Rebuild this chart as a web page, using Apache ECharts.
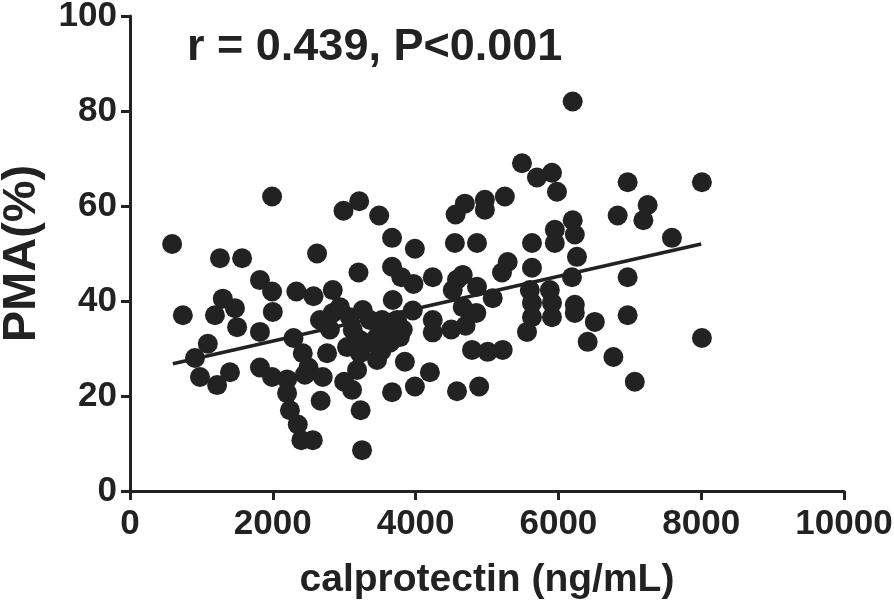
<!DOCTYPE html>
<html>
<head>
<meta charset="utf-8">
<script src="https://cdn.jsdelivr.net/npm/echarts@6/dist/echarts.min.js"></script>
<style>
  html, body { margin: 0; padding: 0; background: #fff; }
  #chart { width: 894px; height: 607px; }
</style>
</head>
<body>
<div id="chart"></div>
<script>
// calprotectin (ng/mL) values
const calprotectin = [
  590, 740, 910, 980, 1090, 1190, 1220, 1260, 1300, 1400,
  1470, 1500, 1570, 1820, 1820, 1820, 1990, 1990, 2000, 1990,
  2200, 2200, 2240, 2350, 2400, 2560, 2290, 2330, 2420, 2500,
  2450, 2570, 2620, 2660, 2670, 2700, 2760, 2800, 2840, 2840,
  2940, 2990, 3000, 3040, 3080, 3110, 3120, 3180, 3230, 3220,
  3220, 3200, 3210, 3250, 3260, 3360, 3360, 3460, 3460, 3490,
  3520, 3530, 3600, 3640, 3670, 3670, 3670, 3680, 3740, 3800,
  3780, 3970, 3820, 3850, 3960, 3990, 3990, 4200, 4240, 4240,
  4240, 4500, 4560, 4550, 4580, 4520, 4660, 4580, 4700, 4660,
  4690, 4790, 4850, 4860, 4860, 4890, 4970, 4970, 5010, 5080,
  5210, 5220, 5250, 5290, 5490, 5560, 5600, 5630, 5630, 5630,
  5630, 5700, 5880, 5910, 5910, 5910, 5950, 5950, 5980, 6200,
  6200, 6230, 6260, 6190, 6230, 6230, 6410, 6510, 6770, 6830,
  6970, 6970, 6970, 7070, 7190, 7250, 7590, 8010, 8010
];
// PMA (%) values, same order
const pma = [
  52, 37, 28, 24, 31, 37, 22.3, 49, 40.5, 25,
  38.5, 34.5, 49, 44.4, 33.5, 26, 62, 42, 37.7, 24,
  23.5, 20.6, 17, 14, 10.7, 10.7, 32.2, 42, 29, 26,
  24.5, 41, 50, 36, 19, 24, 29, 34, 37.5, 42.3,
  38.7, 59, 23, 30.3, 36.6, 21.3, 33.9, 25.5, 17, 29,
  31.8, 46, 61, 8.6, 38.1, 36, 31.2, 27.6, 32.4, 58,
  29.5, 36, 33.3, 31.2, 53.3, 47.2, 20.8, 40.2, 36, 45,
  32.4, 43.6, 34, 27.2, 38, 51, 22, 25, 45, 36,
  33.4, 34, 58.2, 52.2, 44.5, 42.3, 45.5, 21, 34.8, 38.7,
  60.5, 29.7, 37.5, 52.2, 43, 22, 61.3, 59.2, 29.3, 40.6,
  46, 29.7, 62, 48.2, 69, 33.5, 42.3, 52.2, 47, 39.6,
  36.6, 66, 42.3, 39.6, 36.6, 67, 55, 52.2, 63, 82,
  57, 54, 49.3, 45, 39.2, 37.5, 31.4, 35.6, 28.2, 58,
  65, 45, 37, 23, 57, 60.2, 53.3, 65, 32.2
];
// fitted regression line end points
const fitX = [600, 8000];
const fitY = [26.8, 52];

const xTicks = { min: 0, max: 10000, interval: 2000 };
const yTicks = { min: 0, max: 100, interval: 20 };

const ink = '#222222';
const points = calprotectin.map((v, i) => [v, pma[i]]);
const fitLine = fitX.map((v, i) => [v, fitY[i]]);

const chart = echarts.init(document.getElementById('chart'), null, { renderer: 'canvas' });

const axisCommon = {
  type: 'value',
  nameLocation: 'middle',
  axisLine: { show: true, lineStyle: { color: ink, width: 3 } },
  axisTick: { show: true, inside: false, length: 9, lineStyle: { color: ink, width: 3 } },
  splitLine: { show: false },
  axisLabel: {
    color: ink,
    fontFamily: '"Liberation Sans", Arial, sans-serif',
    fontWeight: 'bold',
    fontSize: 35,
    formatter: v => String(v)
  },
  nameTextStyle: {
    color: ink,
    fontFamily: '"Liberation Sans", Arial, sans-serif',
    fontWeight: 'bold'
  }
};

chart.setOption({
  animation: false,
  backgroundColor: '#ffffff',
  title: {
    text: 'r = 0.439, P<0.001',
    left: 187,
    top: 25,
    padding: 0,
    textStyle: {
      color: ink,
      fontFamily: '"Liberation Sans", Arial, sans-serif',
      fontWeight: 'bold',
      fontSize: 45
    }
  },
  grid: {
    left: 130, right: 50, top: 16, bottom: 116,
    containLabel: false, outerBoundsMode: 'none'
  },
  xAxis: Object.assign({}, axisCommon, {
    min: xTicks.min, max: xTicks.max, interval: xTicks.interval,
    name: 'calprotectin (ng/mL)',
    nameGap: 70,
    nameTextStyle: Object.assign({}, axisCommon.nameTextStyle, { fontSize: 39 }),
    axisLabel: Object.assign({}, axisCommon.axisLabel, { margin: 16 })
  }),
  yAxis: Object.assign({}, axisCommon, {
    min: yTicks.min, max: yTicks.max, interval: yTicks.interval,
    name: 'PMA(%)',
    nameGap: 84,
    nameTextStyle: Object.assign({}, axisCommon.nameTextStyle, { fontSize: 47 }),
    axisLabel: Object.assign({}, axisCommon.axisLabel, { margin: 13 })
  }),
  series: [
    {
      type: 'scatter',
      data: points,
      symbol: 'circle',
      symbolSize: 20,
      itemStyle: { color: ink, opacity: 1 },
      z: 2
    },
    {
      type: 'line',
      data: fitLine,
      symbol: 'none',
      lineStyle: { color: ink, width: 3.5 },
      z: 3
    }
  ]
});
</script>
</body>
</html>
